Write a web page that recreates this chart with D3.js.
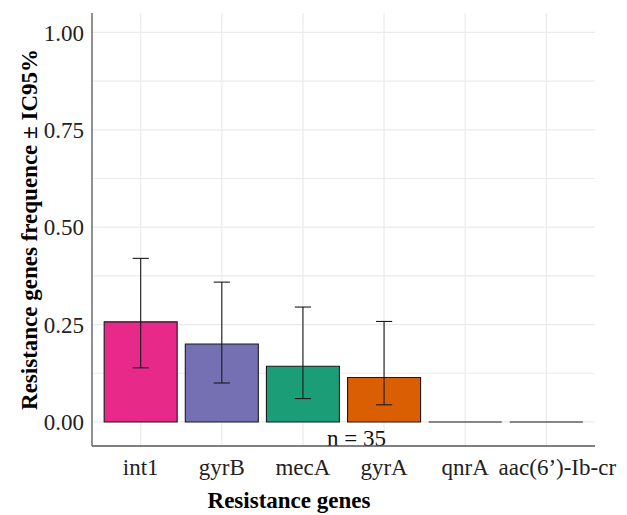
<script src="https://cdn.jsdelivr.net/npm/d3@7"></script>
<style>
  body { margin: 0; background: #fff; }
  text { font-family: "Liberation Serif", "Times New Roman", serif; }
</style>
<div id="chart"></div>
<script>
    // Resistance gene frequencies with 95% CI (n = 35)
    const genes = ["int1", "gyrB", "mecA", "gyrA", "qnrA", "aac(6\u2019)-Ib-cr"];
    const freq = [0.257, 0.2, 0.143, 0.114, 0, 0];
    const ciLow = [0.139, 0.1, 0.06, 0.044, null, null];
    const ciHigh = [0.42, 0.359, 0.295, 0.258, null, null];
    const colors = ["#E7298A", "#7570B3", "#1B9E77", "#D95F02", "#E7298A", "#E7298A"];
    const yTicks = [0, 0.25, 0.5, 0.75, 1];
    const yMinor = [0.125, 0.375, 0.625, 0.875];
    const nLabel = "n = 35";

    const width = 627;
    const height = 515;
    const margin = {top: 13, right: 32, bottom: 69, left: 92};
    const fs = 23;

    const data = genes.map((g, i) => ({gene: g, value: freq[i], lo: ciLow[i], hi: ciHigh[i], color: colors[i], i}));

    const svg = d3.select("#chart")
        .append("svg")
        .attr("width", width)
        .attr("height", height);

    // ggplot-like discrete scale: 0.6 unit expansion each side
    const x = d3.scaleLinear()
        .domain([0.4, genes.length + 0.6])
        .range([margin.left, width - margin.right]);

    const y = d3.scaleLinear()
        .domain([-0.061, 1.05])
        .range([height - margin.bottom - 0.3, margin.top]);

    const grid = svg.append("g")
        .attr("stroke", "#ebebeb")
        .attr("stroke-width", 1.2);

    // minor + major horizontal grid
    grid.selectAll("line.h")
        .data(yMinor.concat(yTicks))
        .join("line")
        .attr("x1", margin.left).attr("x2", width - margin.right)
        .attr("y1", d => y(d)).attr("y2", d => y(d));

    // vertical grid at categories
    grid.selectAll("line.v")
        .data(genes)
        .join("line")
        .attr("x1", (d, i) => x(i + 1)).attr("x2", (d, i) => x(i + 1))
        .attr("y1", margin.top).attr("y2", height - margin.bottom);

    // bars (paths so zero-height bars still show their outline)
    const barW = 0.9;
    svg.selectAll("path.bar")
        .data(data)
        .join("path")
        .attr("d", d => {
            const x0 = x(d.i + 1 - barW / 2), x1 = x(d.i + 1 + barW / 2);
            return `M${x0},${y(0)}V${y(d.value)}H${x1}V${y(0)}Z`;
        })
        .attr("fill", d => d.color)
        .attr("stroke", "#1a1a1a")
        .attr("stroke-width", 1.1);

    // error bars
    const capW = 0.2;
    const eb = svg.selectAll("g.err")
        .data(data.filter(d => d.lo != null))
        .join("g")
        .attr("stroke", "#1a1a1a")
        .attr("stroke-width", 1.1);

    eb.append("line")
        .attr("x1", d => x(d.i + 1)).attr("x2", d => x(d.i + 1))
        .attr("y1", d => y(d.lo)).attr("y2", d => y(d.hi));
    eb.append("line")
        .attr("x1", d => x(d.i + 1 - capW / 2)).attr("x2", d => x(d.i + 1 + capW / 2))
        .attr("y1", d => y(d.hi)).attr("y2", d => y(d.hi));
    eb.append("line")
        .attr("x1", d => x(d.i + 1 - capW / 2)).attr("x2", d => x(d.i + 1 + capW / 2))
        .attr("y1", d => y(d.lo)).attr("y2", d => y(d.lo));

    // annotation
    svg.append("text")
        .attr("x", x(3.66))
        .attr("y", y(-0.04))
        .attr("dy", "0.35em")
        .attr("text-anchor", "middle")
        .attr("font-size", fs)
        .attr("fill", "#111")
        .text(nLabel);

    // axes lines
    svg.append("line")
        .attr("x1", margin.left).attr("x2", margin.left)
        .attr("y1", margin.top).attr("y2", height - margin.bottom)
        .attr("stroke", "#555").attr("stroke-width", 1.3);
    svg.append("line")
        .attr("x1", margin.left).attr("x2", width - margin.right)
        .attr("y1", height - margin.bottom).attr("y2", height - margin.bottom)
        .attr("stroke", "#555").attr("stroke-width", 1.3);

    // y tick labels
    svg.selectAll("text.ytick")
        .data(yTicks)
        .join("text")
        .attr("x", margin.left - 8)
        .attr("y", d => y(d))
        .attr("dy", "0.35em")
        .attr("text-anchor", "end")
        .attr("font-size", fs)
        .attr("fill", "#222")
        .text(d => d3.format(".2f")(d));

    // x tick labels (last one nudged right as in the original)
    svg.selectAll("text.xtick")
        .data(genes)
        .join("text")
        .attr("x", (d, i) => x(i + 1))
        .attr("dx", (d, i) => i === genes.length - 1 ? 11 : 0)
        .attr("y", 475)
        .attr("text-anchor", "middle")
        .attr("font-size", fs)
        .attr("fill", "#222")
        .text(d => d);

    // axis titles
    svg.append("text")
        .attr("x", 289)
        .attr("y", 508)
        .attr("text-anchor", "middle")
        .attr("font-size", fs)
        .attr("font-weight", "bold")
        .attr("fill", "#000")
        .text("Resistance genes");

    svg.append("text")
        .attr("transform", `translate(37, ${(margin.top + height - margin.bottom) / 2}) rotate(-90)`)
        .attr("text-anchor", "middle")
        .attr("font-size", fs)
        .attr("font-weight", "bold")
        .attr("fill", "#000")
        .text("Resistance genes frequence \u00b1 IC95%");
</script>
